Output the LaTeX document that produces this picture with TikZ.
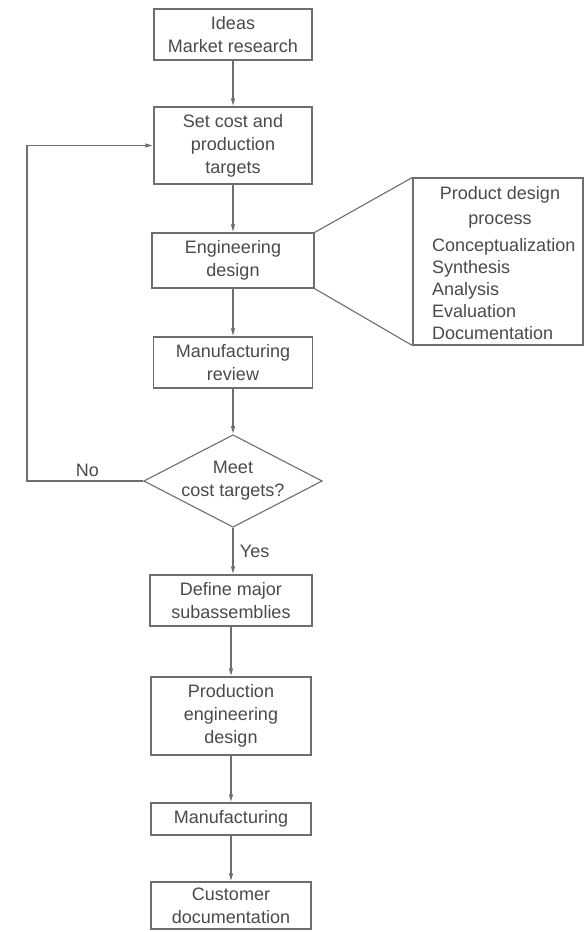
\documentclass[tikz,border=0pt]{standalone}
\usepackage{fontspec}
\setmainfont{Liberation Sans}
\usetikzlibrary{arrows.meta,shapes.geometric}
\definecolor{ink}{HTML}{4A4A4A}
\definecolor{rule}{HTML}{6E6E6E}
\begin{document}
\begin{tikzpicture}[x=1pt,y=-1pt,
  every node/.style={text=ink,font=\fontsize{18}{23}\selectfont},
  stepbox/.style={draw=rule,line width=1.1pt,rectangle,align=center,inner sep=0pt},
  decision/.style={draw=rule,line width=1.1pt,diamond,aspect=1.93,align=center,inner sep=0pt},
  flow/.style={draw=rule,line width=1.1pt,-{Latex[length=8pt,width=4.5pt]}},
  link/.style={draw=rule,line width=1.1pt}]
\useasboundingbox (0,0) rectangle (586,932);
\fill[white] (0,0) rectangle (586,932);

% main column of steps
\node[stepbox,minimum width=158pt,minimum height=51pt] (ideas) at (233,34.5) {Ideas\\Market research};
\node[stepbox,minimum width=158pt,minimum height=77pt] (targets) at (233,145.5) {Set cost and\\production\\targets};
\node[stepbox,minimum width=162pt,minimum height=55pt] (eng) at (233,260.5) {Engineering\\design};
\node[stepbox,minimum width=159pt,minimum height=51pt] (review) at (233,362.5) {Manufacturing\\review};
\node[decision,minimum width=178pt,minimum height=92pt] (meet) at (233,481) {Meet\\cost targets?};
\node[stepbox,minimum width=162pt,minimum height=51pt] (subs) at (231,600.5) {Define major\\subassemblies};
\node[stepbox,minimum width=160pt,minimum height=78pt] (prod) at (231,716) {Production\\engineering\\design};
\node[stepbox,minimum width=160pt,minimum height=32pt] (manuf) at (231,819) {Manufacturing};
\node[stepbox,minimum width=160pt,minimum height=47pt] (cust) at (231,905.5) {Customer\\documentation};

% expanded view of the design process
\node[stepbox,minimum width=170pt,minimum height=167pt] (proc) at (498,261.5) {};
\node[align=center,inner sep=0pt,font=\fontsize{18}{25}\selectfont] (prochead) at (500,207) {Product design\\process};
\node[align=left,anchor=west,inner sep=0pt,font=\fontsize{18}{22}\selectfont] (proclist) at (432,289)
  {Conceptualization\\Synthesis\\Analysis\\Evaluation\\Documentation};
\draw[link] (eng.north east) -- (proc.north west);
\draw[link] (eng.south east) -- (proc.south west);

% connectors
\draw[flow] (ideas.south) -- (ideas.south |- targets.north);
\draw[flow] (targets.south) -- (targets.south |- eng.north);
\draw[flow] (eng.south) -- (eng.south |- review.north);
\draw[flow] (review.south) -- (review.south |- meet.north);
\draw[flow] (meet.south) -- node[right,xshift=3pt] (yes) {Yes} (meet.south |- subs.north);
\draw[flow] (subs.south) -- (subs.south |- prod.north);
\draw[flow] (prod.south) -- (prod.south |- manuf.north);
\draw[flow] (manuf.south) -- (manuf.south |- cust.north);

% rejection loop back to target setting
\coordinate (loop) at (27,481);
\draw[flow] (meet.west) -- node[above,pos=0.48] (no) {No} (loop) |- (targets.west);
\end{tikzpicture}
\end{document}
